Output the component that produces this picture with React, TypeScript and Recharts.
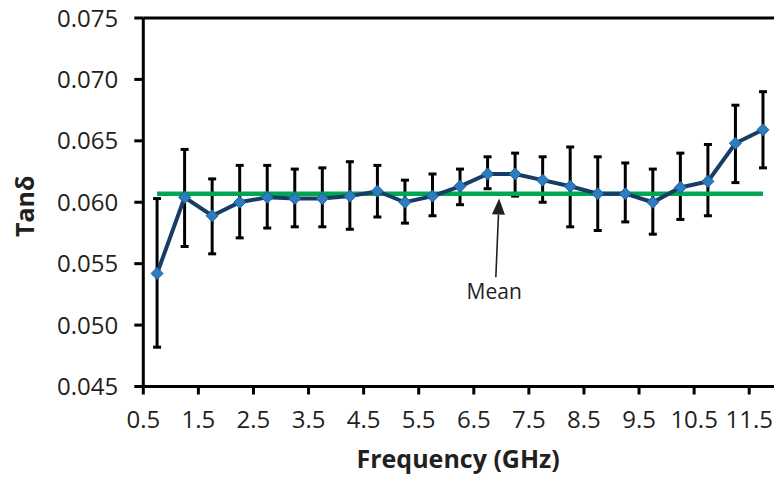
import { CartesianGrid, ErrorBar, Label, Line, LineChart, ReferenceDot, ReferenceLine, XAxis, YAxis } from "recharts";

const frequencies = [
  0.75, 1.25, 1.75, 2.25, 2.75, 3.25, 3.75, 4.25, 4.75, 5.25, 5.75, 6.25,
  6.75, 7.25, 7.75, 8.25, 8.75, 9.25, 9.75, 10.25, 10.75, 11.25, 11.75,
];
const tanDelta = [
  0.0542, 0.0604, 0.0589, 0.06, 0.0604, 0.0603, 0.0603, 0.0605, 0.0609, 0.06, 0.0605, 0.0613,
  0.0623, 0.0623, 0.0618, 0.0613, 0.0607, 0.0607, 0.06, 0.0612, 0.0617, 0.0648, 0.0659,
];
const upperBound = [
  0.0603, 0.0643, 0.0619, 0.063, 0.063, 0.0627, 0.0628, 0.0633, 0.063, 0.0618, 0.0623, 0.0627,
  0.0637, 0.064, 0.0637, 0.0645, 0.0637, 0.0632, 0.0627, 0.064, 0.0647, 0.0679, 0.069,
];
const lowerBound = [
  0.0482, 0.0564, 0.0558, 0.0571, 0.0579, 0.058, 0.058, 0.0578, 0.0588, 0.0583, 0.0589, 0.0598,
  0.0611, 0.0605, 0.06, 0.058, 0.0577, 0.0584, 0.0574, 0.0586, 0.0589, 0.0616, 0.0628,
];
const MEAN_TAN = 0.0607;

const xTicks = [0.5, 1.5, 2.5, 3.5, 4.5, 5.5, 6.5, 7.5, 8.5, 9.5, 10.5, 11.5];
const yTicks = [0.045, 0.05, 0.055, 0.06, 0.065, 0.07, 0.075];

const FONT = "'Open Sans', sans-serif";
const TEXT = "#231f20";
const NAVY = "#173d66";
const MARKER = "#2b7cc0";
const GREEN = "#00a651";

const data = frequencies.map((f, i) => ({
  freq: f,
  tan: tanDelta[i],
  err: [tanDelta[i] - lowerBound[i], upperBound[i] - tanDelta[i]],
  mean: MEAN_TAN,
}));

function Diamond(props: any) {
  const { cx, cy } = props;
  if (cx == null || cy == null) return null;
  const r = 6;
  return (
    <path
      d={`M${cx},${cy - r} L${cx + r},${cy} L${cx},${cy + r} L${cx - r},${cy} Z`}
      fill={MARKER}
      stroke="#1f5e96"
      strokeWidth={1}
    />
  );
}

function Arrow(props: any) {
  const { x1, y1, x2, y2 } = props;
  const dx = x2 - x1;
  const dy = y2 - y1;
  const len = Math.hypot(dx, dy) || 1;
  const ux = dx / len;
  const uy = dy / len;
  const head = 16;
  const half = 6.5;
  const bx = x2 - ux * head;
  const by = y2 - uy * head;
  return (
    <g>
      <line x1={x1} y1={y1} x2={bx} y2={by} stroke={TEXT} strokeWidth={1.6} />
      <path
        d={`M${x2},${y2} L${bx - uy * half},${by + ux * half} L${bx + uy * half},${by - ux * half} Z`}
        fill={TEXT}
      />
    </g>
  );
}

function YTitle({ viewBox }: any) {
  const x = viewBox.x + 34;
  const y = viewBox.y + viewBox.height / 2 + 4;
  return (
    <text
      x={x}
      y={y}
      transform={`rotate(-90, ${x}, ${y})`}
      textAnchor="middle"
      fontFamily={FONT}
      fontWeight={700}
      fontSize={25}
      fill={TEXT}
    >
      Tanδ
    </text>
  );
}

export default function App() {
  return (
    <div style={{ position: "absolute", left: 0, top: 0, background: "#fff" }}>
      <LineChart width={774} height={481} data={data} margin={{ top: 18, right: 0, left: 0, bottom: 0 }}>
        <CartesianGrid stroke="none" />
        <XAxis
          dataKey="freq"
          type="number"
          domain={[0.5, 11.95]}
          allowDataOverflow
          ticks={xTicks}
          tickFormatter={(v) => String(v)}
          height={94.5}
          axisLine={{ stroke: "#000", strokeWidth: 3 }}
          tickLine={{ stroke: "#000", strokeWidth: 3 }}
          tickSize={8}
          tickMargin={16}
          tick={{ fill: TEXT, fontSize: 24, fontFamily: FONT }}
          interval={0}
        >
          <Label
            value="Frequency (GHz)"
            position="insideBottom"
            offset={13}
            fill={TEXT}
            fontFamily={FONT}
            fontWeight={700}
            fontSize={25}
            dx={-0.5}
          />
        </XAxis>
        <YAxis
          type="number"
          domain={[0.045, 0.075]}
          ticks={yTicks}
          tickFormatter={(v) => v.toFixed(3)}
          width={143.3}
          axisLine={{ stroke: "#000", strokeWidth: 3 }}
          tickLine={{ stroke: "#000", strokeWidth: 3 }}
          tickSize={9}
          tickMargin={16}
          tick={{ fill: TEXT, fontSize: 24, fontFamily: FONT }}
          interval={0}
        >
          <Label content={<YTitle />} />
        </YAxis>
        <ReferenceLine y={0.075} stroke="#000" strokeWidth={3} />
        <Line
          dataKey="tan"
          stroke="none"
          dot={false}
          activeDot={false}
          isAnimationActive={false}
        >
          <ErrorBar dataKey="err" direction="y" width={4} stroke="#000" strokeWidth={3} isAnimationActive={false} />
        </Line>
        <Line
          dataKey="mean"
          stroke={GREEN}
          strokeWidth={4.5}
          dot={false}
          activeDot={false}
          isAnimationActive={false}
        />
        <Line
          dataKey="tan"
          stroke={NAVY}
          strokeWidth={4}
          dot={<Diamond />}
          activeDot={false}
          isAnimationActive={false}
        />
        <ReferenceLine
          segment={[
            { x: 6.9, y: 0.0539 },
            { x: 6.96, y: 0.0603 },
          ]}
          shape={<Arrow />}
        />
        <ReferenceDot
          x={6.87}
          y={0.0521}
          r={0}
          shape={(p: any) => (
            <text x={p.cx} y={p.cy} textAnchor="middle" fontFamily={FONT} fontSize={21} fill={TEXT}>
              Mean
            </text>
          )}
        />
      </LineChart>
    </div>
  );
}
